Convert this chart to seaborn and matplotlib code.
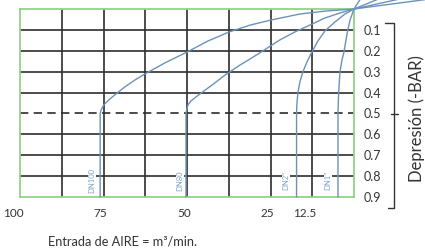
import matplotlib
matplotlib.use("Agg")
import matplotlib.pyplot as plt
import matplotlib.transforms as mtransforms
import seaborn as sns
import pandas as pd
from matplotlib.lines import Line2D

# ---------------- data ----------------
series_names = ["DN100", "DN80", 'DN2"', 'DN1"']
dn100_x = [76.0, 76.0, 75.7, 74.9, 73.4, 71.3, 68.6, 65.6, 62.6, 56.6, 50.0, 43.7, 37.4, 31.1, 24.9, 16.2, 8.7, 0.0, -21.3]
dn100_y = [0.9, 0.5, 0.483, 0.459, 0.435, 0.407, 0.373, 0.340, 0.311, 0.258, 0.206, 0.153, 0.110, 0.077, 0.053, 0.024, 0.010, 0.0, -0.045]
dn80_x = [50.3, 50.3, 50.1, 49.7, 48.8, 47.3, 44.9, 42.5, 38.6, 34.1, 31.1, 27.8, 22.2, 17.7, 13.2, 8.7, 4.2, 0.0, -12.9]
dn80_y = [0.9, 0.5, 0.483, 0.459, 0.440, 0.421, 0.392, 0.364, 0.316, 0.268, 0.239, 0.206, 0.148, 0.110, 0.077, 0.043, 0.019, 0.0, -0.045]
dn2_x = [17.2, 17.2, 17.1, 16.8, 16.2, 15.3, 14.1, 12.6, 10.8, 8.7, 5.7, 2.7, 0.0, -6.9]
dn2_y = [0.9, 0.5, 0.455, 0.402, 0.349, 0.301, 0.254, 0.206, 0.153, 0.105, 0.062, 0.024, 0.0, -0.045]
dn1_x = [4.8, 4.8, 4.6, 4.2, 3.6, 3.0, 2.4, 1.9, 1.2, 0.0, -1.8]
dn1_y = [0.9, 0.5, 0.402, 0.301, 0.244, 0.206, 0.148, 0.105, 0.053, 0.0, -0.045]

label_x = [78.4, 52.1, 20.4, 7.8]
label_y = 0.823

x_tick_vals = [100, 75, 50, 25, 12.5]
x_tick_labels = ["100", "75", "50", "25", "12.5"]
y_tick_vals = [0.1, 0.2, 0.3, 0.4, 0.5, 0.6, 0.7, 0.8, 0.9]
y_tick_labels = ["0.1", "0.2", "0.3", "0.4", "0.5", "0.6", "0.7", "0.8", "0.9"]
grid_x = [87.5, 75, 62.5, 50, 37.5, 25, 12.5]
grid_y = [0.1, 0.2, 0.3, 0.4, 0.6, 0.7, 0.8]
dashed_y = 0.5

x_label = "Entrada de AIRE = m³/min."
y_label = "Depresión (-BAR)"

# ---------------- style ----------------
sns.set_theme(style="white")
plt.rcParams["font.family"] = ["Lato", "DejaVu Sans"]

green = "#93d18a"
gridc = "#2e2e2e"
curve = "#6a92bb"
labc = "#7ea3c9"
textc = "#333333"

fig = plt.figure(figsize=(4.25, 2.52), dpi=100)
ax = fig.add_axes([20 / 425, 1 - 197 / 252, 334 / 425, 188 / 252])

rows = []
for name, xs, ys in zip(series_names, [dn100_x, dn80_x, dn2_x, dn1_x], [dn100_y, dn80_y, dn2_y, dn1_y]):
    for xv, yv in zip(xs, ys):
        rows.append({"serie": name, "caudal": xv, "depresion": yv})
df = pd.DataFrame(rows)

for gx in grid_x:
    ax.axvline(gx, color=gridc, lw=1.2, zorder=1)
for gy in grid_y:
    ax.axhline(gy, color=gridc, lw=1.2, zorder=1)
ax.axhline(dashed_y, color=gridc, lw=1.2, dashes=(5, 3.2), zorder=1)

n_before = len(ax.get_lines())
sns.lineplot(data=df, x="caudal", y="depresion", units="serie", estimator=None,
             sort=False, color=curve, lw=1.0, ax=ax, zorder=3, legend=False)
for ln in ax.get_lines()[n_before:]:
    ln.set_clip_on(False)
    ln.set_solid_joinstyle("round")

for name, lx in zip(series_names, label_x):
    ax.text(lx, label_y, name, rotation=90, ha="center", va="center", fontsize=5.5,
            color=labc, zorder=4,
            bbox=dict(facecolor="white", edgecolor="none", pad=0.6))

ax.set_xlim(100, 0)
ax.set_ylim(0.9, 0)

for s in ax.spines.values():
    s.set_color(green)
    s.set_linewidth(1.3)
    s.set_zorder(2.5)

ax.set_xticks(x_tick_vals)
ax.set_xticklabels(x_tick_labels)
ax.set_yticks(y_tick_vals)
ax.set_yticklabels(y_tick_labels)
ax.yaxis.tick_right()
ax.tick_params(axis="x", length=0, pad=8, labelsize=8.5, labelcolor=textc)
ax.tick_params(axis="y", length=0, pad=7, labelsize=9, labelcolor=textc)
for t in ax.get_yticklabels():
    t.set_ha("left")
shift = mtransforms.ScaledTranslation(4 / 100, 0, fig.dpi_scale_trans)
for t in ax.get_xticklabels():
    t.set_ha("right")
    t.set_transform(t.get_transform() + shift)
ax.set_xlabel("")
ax.set_ylabel("")

fig.text(123 / 425, 1 - 241 / 252, x_label, ha="center", va="center", fontsize=9.2, color=textc)
fig.text(417 / 425, 1 - 119 / 252, y_label, ha="center", va="center", rotation=90,
         fontsize=12, color=textc)

# bracket
def fx(p):
    return p / 425
def fy(p):
    return 1 - p / 252
fig.add_artist(Line2D([fx(385), fx(394), fx(394), fx(388)], [fy(23), fy(23), fy(208), fy(208)],
                      color=textc, lw=1.0))
fig.add_artist(Line2D([fx(391), fx(398)], [fy(114), fy(114)], color=textc, lw=1.0))

fig.savefig("out.png", dpi=100)
